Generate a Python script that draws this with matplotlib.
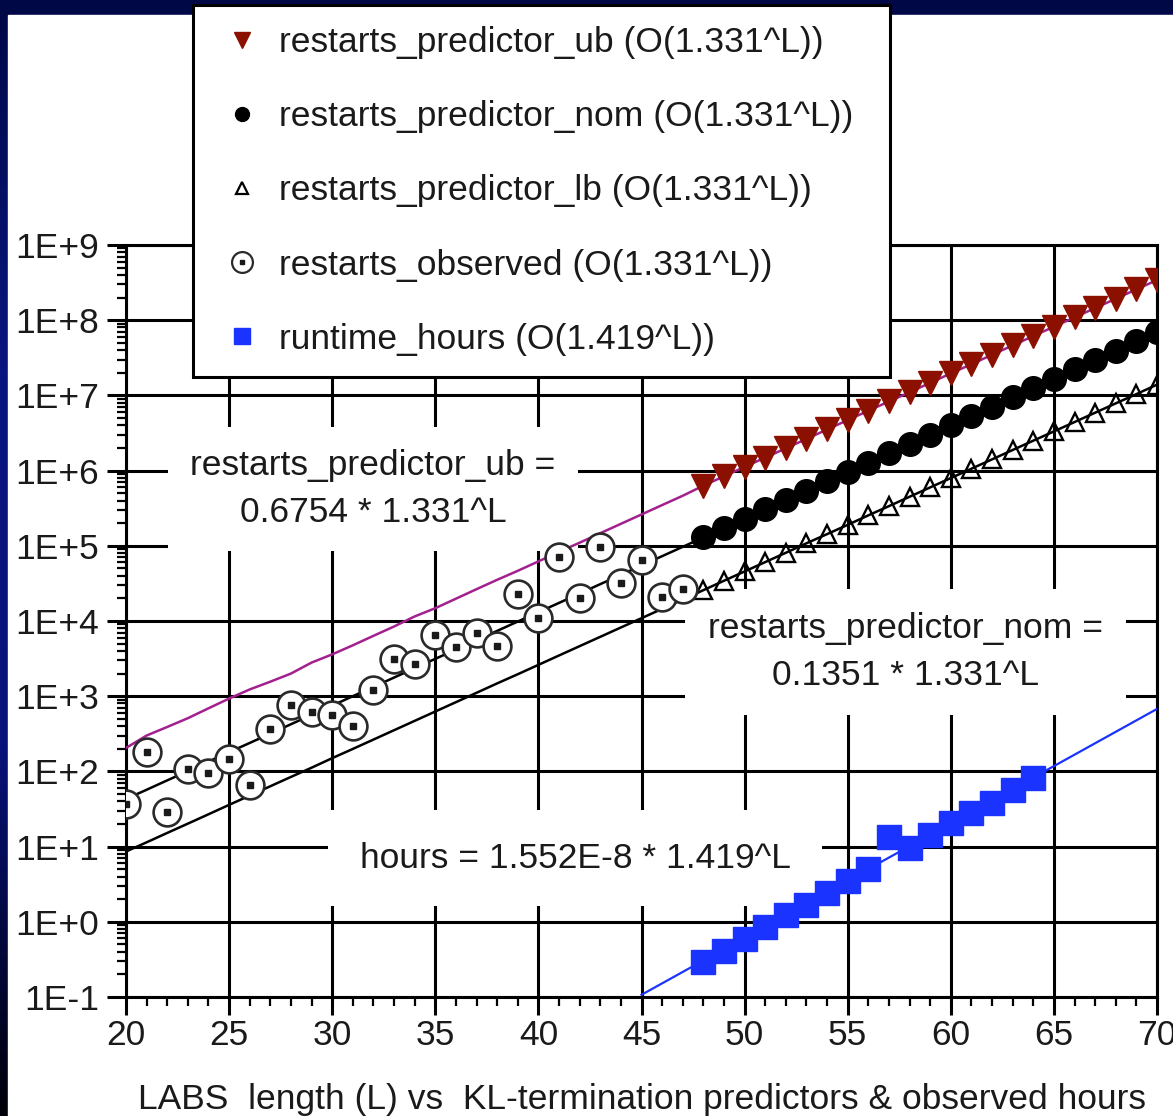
import numpy as np
import matplotlib
matplotlib.use("Agg")
import matplotlib.pyplot as plt
from matplotlib.lines import Line2D
from matplotlib.patches import Rectangle
from matplotlib.colors import LinearSegmentedColormap
from matplotlib.legend_handler import HandlerTuple
from matplotlib.ticker import LogLocator, MultipleLocator, FuncFormatter

plt.rcParams['font.family'] = ['Liberation Sans', 'DejaVu Sans']

# LABS length
L = list(range(20, 71))

# predictor curves
ub = [205, 300, 390, 510, 690, 930, 1230, 1560, 2000, 2800,
      3600, 4750, 6350, 8450, 11500, 14800, 19800, 26500, 35300, 46500,
      62000, 83000, 110000, 147000, 196000, 261000, 348000, 463000, 6.3e5, 8.4e5,
      1.12e6, 1.49e6, 1.98e6, 2.64e6, 3.52e6, 4.7e6, 6.25e6, 8.3e6, 1.1e7, 1.47e7,
      1.96e7, 2.6e7, 3.47e7, 4.62e7, 6.15e7, 8.2e7, 1.09e8, 1.45e8, 1.93e8, 2.57e8,
      3.42e8]
nom = [43, 57, 76, 101, 135, 180, 239, 318, 424, 564,
       750, 1000, 1330, 1770, 2360, 3140, 4170, 5560, 7390, 9840,
       13100, 17400, 23200, 30900, 41100, 54700, 72800, 96900, 1.29e5, 1.72e5,
       2.29e5, 3.04e5, 4.05e5, 5.39e5, 7.17e5, 9.55e5, 1.27e6, 1.69e6, 2.25e6, 3.0e6,
       3.99e6, 5.31e6, 7.06e6, 9.4e6, 1.25e7, 1.67e7, 2.22e7, 2.95e7, 3.93e7, 5.23e7,
       6.96e7]
lb = [8.6, 11.4, 15.2, 20.2, 26.9, 35.9, 47.7, 63.5, 84.5, 112,
      150, 199, 265, 353, 470, 626, 833, 1110, 1480, 1960,
      2610, 3480, 4630, 6160, 8200, 10900, 14500, 19300, 25700, 34300,
      45600, 60700, 80800, 1.08e5, 1.43e5, 1.9e5, 2.54e5, 3.37e5, 4.49e5, 5.98e5,
      7.96e5, 1.06e6, 1.41e6, 1.88e6, 2.5e6, 3.32e6, 4.42e6, 5.89e6, 7.84e6, 1.04e7,
      1.39e7]
marker_start = 48  # predictors get markers from here on

# observed restarts
obs_L = list(range(20, 48))
obs = [37, 180, 29, 107, 96, 148, 66, 366, 771, 617,
       562, 402, 1220, 3090, 2700, 6500, 4550, 6860, 4700, 22900,
       11000, 71600, 20000, 97000, 32000, 64700, 21000, 27000]

# observed runtime in hours
hours_L = list(range(48, 65))
hours = [0.294, 0.41, 0.59, 0.845, 1.23, 1.67, 2.39, 3.49, 4.99, 13.5,
         9.66, 14.3, 20.4, 27.7, 38.4, 56.6, 80.9]
fit_L = [45, 70]
fit_hours = [0.107, 677]

labels = ["restarts_predictor_ub (O(1.331^L))",
          "restarts_predictor_nom (O(1.331^L))",
          "restarts_predictor_lb (O(1.331^L))",
          "restarts_observed (O(1.331^L))",
          "runtime_hours (O(1.419^L))"]

ub_red = '#8c1000'
magenta = '#a3208f'
blue = '#1a33ff'
txt = '#1a1a1a'
fs = 25.5

fig = plt.figure(figsize=(11.73, 11.16), dpi=100)

# slide background: navy frame with a white panel
bg = fig.add_axes([0, 0, 1, 1], zorder=-10)
bg.axis('off')
cmap = LinearSegmentedColormap.from_list('frame', ['#000846', '#0a1680', '#08127a', '#000008'])
bg.imshow(np.linspace(0, 1, 256).reshape(-1, 1), cmap=cmap, aspect='auto',
          extent=[0, 1, 0, 1], origin='upper')
bg.add_patch(Rectangle((8 / 1173, 0), 1, 1 - 15 / 1116, color='white'))
bg.set_xlim(0, 1)
bg.set_ylim(0, 1)

ax = fig.add_axes([126 / 1173, 1 - 997 / 1116, 1031 / 1173, 752 / 1116])
ax.set_yscale('log')

ax.plot(L, ub, color=magenta, lw=1.8, marker='v', ms=17, mfc=ub_red, mec=ub_red,
        markevery=slice(marker_start - 20, None), zorder=3)
ax.plot(L, nom, color='black', lw=1.8, marker='o', ms=17, mfc='black', mec='black',
        markevery=slice(marker_start - 20, None), zorder=3)
ax.plot(L, lb, color='black', lw=1.8, marker='^', ms=12.5, mfc='none', mec='black', mew=1.7,
        markevery=slice(marker_start - 20, None), zorder=3)
ax.plot(obs_L, obs, ls='none', marker='o', ms=20, mfc='white', mec='#2a2a2a', mew=1.9, zorder=4)
ax.plot(obs_L, obs, ls='none', marker='s', ms=3.8, color='#1a1a1a', zorder=5)
ax.plot(fit_L, fit_hours, color=blue, lw=1.6, zorder=3)
ax.plot(hours_L, hours, ls='none', marker='s', ms=17, color=blue, zorder=4)

ax.set_xlim(20, 70)
ax.set_ylim(0.1, 1e9)
ax.xaxis.set_major_locator(MultipleLocator(5))
ax.xaxis.set_minor_locator(MultipleLocator(1))
ax.yaxis.set_major_locator(LogLocator(base=10, subs=(1.0,), numticks=30))
ax.yaxis.set_minor_locator(LogLocator(base=10, subs=np.arange(2, 10), numticks=30))
ax.yaxis.set_major_formatter(FuncFormatter(lambda v, p: "1E%+d" % int(round(np.log10(v)))))

ax.tick_params(which='both', direction='out', color='black', labelsize=fs, labelcolor=txt)
ax.tick_params(axis='y', which='major', length=13.5, width=2.2, pad=6)
ax.tick_params(axis='y', which='minor', length=6.5, width=1.6)
ax.tick_params(axis='x', which='major', length=13, width=2.2, pad=3)
ax.tick_params(axis='x', which='minor', length=6.5, width=1.6)

ax.set_axisbelow(True)
ax.grid(True, which='major', color='black', lw=2.2)
for s in ax.spines.values():
    s.set_linewidth(2.2)

ax.set_xlabel("LABS  length (L) vs  KL-termination predictors & observed hours",
              fontsize=fs, color=txt, labelpad=22)

ax.text(0.2396, 0.6755, "restarts_predictor_ub =\n0.6754 * 1.331^L", transform=ax.transAxes,
        ha='center', va='center', fontsize=fs, color=txt, linespacing=1.55,
        bbox=dict(boxstyle='square,pad=0.62', fc='white', ec='none'), zorder=1.5)
ax.text(0.7556, 0.4588, "restarts_predictor_nom =\n0.1351 * 1.331^L", transform=ax.transAxes,
        ha='center', va='center', fontsize=fs, color=txt, linespacing=1.55,
        bbox=dict(boxstyle='square,pad=0.65', fc='white', ec='none'), zorder=1.5)
ax.text(0.4355, 0.1848, "hours = 1.552E-8 * 1.419^L", transform=ax.transAxes,
        ha='center', va='center', fontsize=fs, color=txt,
        bbox=dict(boxstyle='square,pad=0.9', fc='white', ec='none'), zorder=1.5)

handles = [
    Line2D([], [], ls='none', marker='v', ms=12, mfc=ub_red, mec=ub_red),
    Line2D([], [], ls='none', marker='o', ms=10, color='black'),
    Line2D([], [], ls='none', marker='^', ms=9, mfc='none', mec='black', mew=1.6),
    (Line2D([], [], ls='none', marker='o', ms=15, mfc='white', mec='#2a2a2a', mew=1.6),
     Line2D([], [], ls='none', marker='s', ms=3, color='#1a1a1a')),
    Line2D([], [], ls='none', marker='s', ms=12, color=blue),
]
leg = ax.legend(handles, labels, handler_map={tuple: HandlerTuple(ndivide=1, pad=0)},
                loc='upper left', mode='expand', borderaxespad=0,
                bbox_to_anchor=(193 / 1173, 1 - 382 / 1116, 697 / 1173, 377 / 1116),
                bbox_transform=fig.transFigure, fontsize=fs, frameon=True, fancybox=False,
                framealpha=1, edgecolor='black', borderpad=0.6, labelspacing=1.16,
                handlelength=1.55, handletextpad=0.28)
leg.get_frame().set_linewidth(2.2)
for t in leg.get_texts():
    t.set_color(txt)

fig.savefig('out.png', dpi=100)
